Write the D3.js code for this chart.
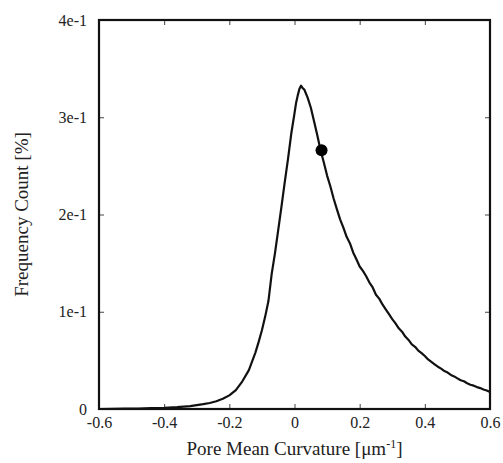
<!DOCTYPE html>
<html>
<head>
<meta charset="utf-8">
<script src="https://cdn.jsdelivr.net/npm/d3@7"></script>
<style>
    body { margin: 0; background: #fff; }
    text { font-family: "Liberation Serif", "DejaVu Serif", serif; fill: #222; }
</style>
</head>
<body>
<div id="app"></div>
<script>
// curvature (1/um) and frequency count (%)
const curvature = [
    -0.60, -0.56, -0.52, -0.48, -0.44, -0.40, -0.36, -0.32, -0.30, -0.28,
    -0.26, -0.24, -0.22, -0.20, -0.18, -0.16, -0.14, -0.12, -0.11, -0.10,
    -0.09, -0.08, -0.07, -0.06, -0.05, -0.04, -0.03, -0.02, -0.01, 0.00,
    0.005, 0.01, 0.015, 0.02, 0.025, 0.03, 0.04, 0.05, 0.06, 0.07,
    0.08, 0.09, 0.10, 0.11, 0.12, 0.13, 0.14, 0.15, 0.16, 0.17,
    0.18, 0.19, 0.20, 0.21, 0.22, 0.23, 0.24, 0.25, 0.26, 0.27,
    0.28, 0.29, 0.30, 0.31, 0.32, 0.33, 0.34, 0.35, 0.36, 0.37,
    0.38, 0.39, 0.40, 0.41, 0.42, 0.43, 0.44, 0.45, 0.46, 0.47,
    0.48, 0.49, 0.50, 0.51, 0.52, 0.53, 0.54, 0.55, 0.56, 0.57,
    0.58, 0.59, 0.60
];
const frequency = [
    0.0000, 0.0002, 0.0003, 0.0005, 0.0008, 0.0012, 0.0019, 0.0030, 0.0040, 0.0050,
    0.0062, 0.0080, 0.0105, 0.0140, 0.0195, 0.0285, 0.0400, 0.0580, 0.0690, 0.0810,
    0.0950, 0.1110, 0.1390, 0.1600, 0.1840, 0.2080, 0.2330, 0.2570, 0.2830, 0.3040,
    0.3150, 0.3225, 0.3290, 0.3325, 0.3300, 0.3285, 0.3205, 0.3100, 0.2960, 0.2815,
    0.2660, 0.2535, 0.2400, 0.2290, 0.2165, 0.2055, 0.1950, 0.1865, 0.1770, 0.1705,
    0.1610, 0.1540, 0.1465, 0.1420, 0.1365, 0.1300, 0.1250, 0.1175, 0.1135, 0.1075,
    0.1025, 0.0975, 0.0925, 0.0880, 0.0830, 0.0795, 0.0745, 0.0710, 0.0665, 0.0640,
    0.0600, 0.0575, 0.0545, 0.0510, 0.0485, 0.0460, 0.0435, 0.0415, 0.0390, 0.0375,
    0.0350, 0.0335, 0.0315, 0.0295, 0.0285, 0.0265, 0.0250, 0.0240, 0.0225, 0.0215,
    0.0200, 0.0190, 0.0175
];
const marker = [{ x: 0.083, y: 0.266 }];

const xTicks = [-0.6, -0.4, -0.2, 0, 0.2, 0.4, 0.6];
const xTickLabels = ['-0.6', '-0.4', '-0.2', '0', '0.2', '0.4', '0.6'];
const yTicks = [0, 0.1, 0.2, 0.3, 0.4];
const yTickLabels = ['0', '1e-1', '2e-1', '3e-1', '4e-1'];

const width = 503;
const height = 463;
const margin = { top: 20, right: 13, bottom: 54, left: 99 };

const x = d3.scaleLinear().domain([-0.6, 0.6]).range([margin.left, width - margin.right]);
const y = d3.scaleLinear().domain([0, 0.4]).range([height - margin.bottom, margin.top]);

const svg = d3.select('#app').append('svg')
    .attr('width', width)
    .attr('height', height);

const tickLen = 5;

// bottom / top axes (ticks pointing inward)
const xAxisB = svg.append('g')
    .attr('transform', `translate(0,${y(0)})`)
    .call(d3.axisBottom(x).tickValues(xTicks).tickSize(-tickLen).tickPadding(8)
        .tickFormat((d, i) => xTickLabels[i]));
const xAxisT = svg.append('g')
    .attr('transform', `translate(0,${y(0.4)})`)
    .call(d3.axisTop(x).tickValues(xTicks).tickSize(-tickLen).tickFormat(''));

const yAxisL = svg.append('g')
    .attr('transform', `translate(${x(-0.6)},0)`)
    .call(d3.axisLeft(y).tickValues(yTicks).tickSize(-tickLen).tickPadding(12)
        .tickFormat((d, i) => yTickLabels[i]));
const yAxisR = svg.append('g')
    .attr('transform', `translate(${x(0.6)},0)`)
    .call(d3.axisRight(y).tickValues(yTicks).tickSize(-tickLen).tickFormat(''));

[xAxisB, xAxisT, yAxisL, yAxisR].forEach(a => {
    a.select('.domain').remove();
    a.selectAll('.tick line').attr('stroke', '#444').attr('stroke-width', 1);
    a.selectAll('.tick text')
        .style('font-family', '"Liberation Serif", serif')
        .style('font-size', '16px')
        .attr('fill', '#222');
});

// frame
svg.append('rect')
    .attr('x', x(-0.6))
    .attr('y', y(0.4))
    .attr('width', x(0.6) - x(-0.6))
    .attr('height', y(0) - y(0.4))
    .attr('fill', 'none')
    .attr('stroke', '#111')
    .attr('stroke-width', 2.2);

const series = curvature.map((c, i) => ({ x: c, y: frequency[i] }));

const line = d3.line()
    .x(d => x(d.x))
    .y(d => y(d.y));

svg.append('path')
    .datum(series)
    .attr('fill', 'none')
    .attr('stroke', '#111')
    .attr('stroke-width', 2.2)
    .attr('stroke-linejoin', 'round')
    .attr('d', line);

svg.selectAll('circle.marker')
    .data(marker)
    .enter().append('circle')
    .attr('class', 'marker')
    .attr('cx', d => x(d.x))
    .attr('cy', d => y(d.y))
    .attr('r', 6)
    .attr('fill', '#000');

// axis titles
const xTitle = svg.append('text')
    .attr('x', (x(-0.6) + x(0.6)) / 2)
    .attr('y', 455)
    .attr('text-anchor', 'middle')
    .style('font-size', '19px');
xTitle.append('tspan').text('Pore Mean Curvature [μm');
xTitle.append('tspan').attr('dy', -7).style('font-size', '12px').text('-1');
xTitle.append('tspan').attr('dy', 7).text(']');

svg.append('text')
    .attr('transform', `translate(28,${(y(0) + y(0.4)) / 2}) rotate(-90)`)
    .attr('text-anchor', 'middle')
    .style('font-size', '19px')
    .text('Frequency Count [%]');
</script>
</body>
</html>
